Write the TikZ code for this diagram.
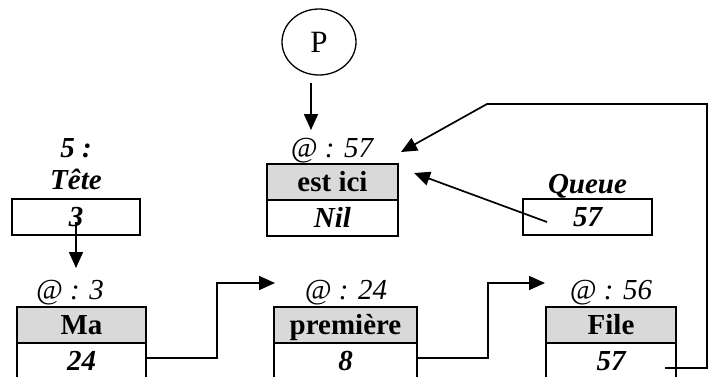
\documentclass[tikz,border=0pt]{standalone}
\usepackage{fontspec}
\setmainfont{Liberation Serif}
\usetikzlibrary{arrows.meta,shapes.geometric}
\definecolor{hdrgray}{RGB}{217,217,217}
\newcommand\bigtext{\fontsize{29}{34}\selectfont}
\begin{document}
\begin{tikzpicture}[x=1pt,y=-1pt,
  lbl/.style={anchor=base,inner sep=0pt,font=\bigtext\itshape},
  varname/.style={anchor=base,inner sep=0pt,font=\bigtext\bfseries\itshape},
  cell/.style={draw,line width=1.8pt,inner sep=0pt,text height=20pt,text depth=2pt,minimum height=36pt},
  hdrcell/.style={cell,fill=hdrgray,font=\bigtext\bfseries},
  valcell/.style={cell,font=\bigtext\bfseries\itshape},
  link/.style={line width=1.7pt,-{Triangle[length=16pt,width=14pt]}},
  ]
\useasboundingbox (0,0) rectangle (717,376);

% pointer P
\node[draw,ellipse,line width=1.3pt,minimum width=74pt,minimum height=66pt,
      inner sep=0pt,font=\fontsize{31}{36}\selectfont] (p) at (319,42) {P};

% head and tail variables
\node[varname] (five) at (76,157) {5 :};
\node[varname] (tete) at (76,189) {Tête};
\node[valcell,minimum width=128pt] (tbox) at (76,217) {3};
\node[varname] (queue) at (587.5,193) {Queue};
\node[valcell,minimum width=129pt] (qbox) at (587.5,217) {57};

% cell at address 57
\node[lbl] (a57) at (332,157) {@ : 57};
\node[hdrcell,minimum width=131pt] (c57h) at (332.5,182) {est ici};
\node[valcell,minimum width=131pt] (c57v) at (332.5,218) {Nil};

% cell at address 3
\node[lbl] (a3) at (70,299) {@ : 3};
\node[hdrcell,minimum width=129pt] (c3h) at (81.5,325) {Ma};
\node[valcell,minimum width=129pt] (c3v) at (81.5,361) {24};

% cell at address 24
\node[lbl] (a24) at (346,299) {@ : 24};
\node[hdrcell,minimum width=143pt] (c24h) at (345.5,325) {première};
\node[valcell,minimum width=143pt] (c24v) at (345.5,361) {8};

% cell at address 56
\node[lbl] (a56) at (611,299) {@ : 56};
\node[hdrcell,minimum width=130pt] (c56h) at (611,325) {File};
\node[valcell,minimum width=130pt] (c56v) at (611,361) {57};

% arrow ends
\coordinate (ptail) at (311,83);
\coordinate (phead) at (311,130);
\coordinate (thead) at (76,268);
\coordinate (in24) at (275,283);
\coordinate (in56) at (545,283);
\coordinate (fout) at (665,368);
\coordinate (in57a) at (401,152);
\coordinate (in57b) at (414,173);
\coordinate (qout) at (547,222);

% links
\draw[link] (ptail) -- (phead);
\draw[link] ([yshift=-5pt]tbox.center) -- (thead);
\draw[link] ([yshift=3pt]c3v.east) -- ++(70,0) |- (in24);
\draw[link] ([yshift=3pt]c24v.east) -- ++(70,0) |- (in56);
\draw[link] (fout) -| (707,104) -- (487,104) -- (in57a);
\draw[link] (qout) -- (in57b);
\end{tikzpicture}
\end{document}
